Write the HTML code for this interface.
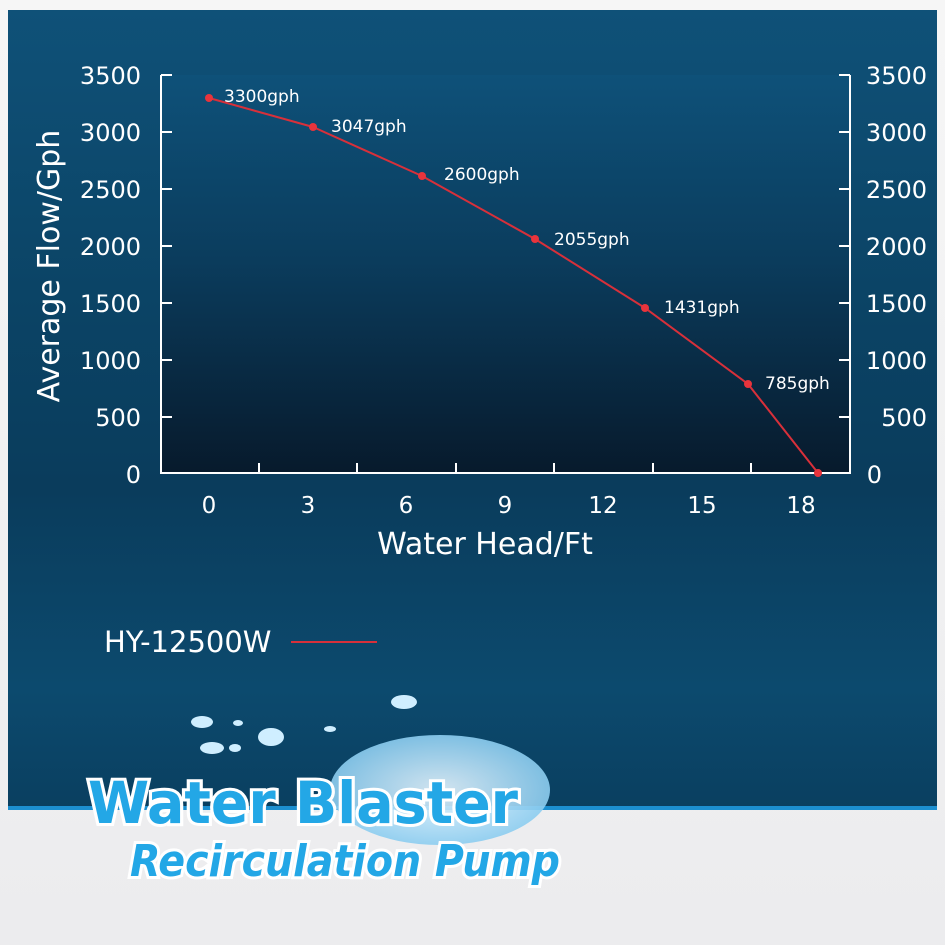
<!DOCTYPE html>
<html><head><meta charset="utf-8"><style>
html,body{margin:0;padding:0;background:#f2f2f3;}
body{width:945px;height:945px;position:relative;overflow:hidden;font-family:"DejaVu Sans","Liberation Sans",sans-serif;}
</style></head><body>
<svg width="945" height="945" viewBox="0 0 945 945" xmlns="http://www.w3.org/2000/svg" style="position:absolute;left:0;top:0">
<defs>
<linearGradient id="bg" x1="0" y1="0" x2="0" y2="1">
<stop offset="0" stop-color="#0f5178"/>
<stop offset="0.35" stop-color="#0b4466"/>
<stop offset="0.6" stop-color="#0a3c5c"/>
<stop offset="0.85" stop-color="#0c4a6e"/>
<stop offset="1" stop-color="#0a3f60"/>
</linearGradient>
<linearGradient id="pl" x1="0" y1="0" x2="0" y2="1">
<stop offset="0" stop-color="#0e5179"/>
<stop offset="0.45" stop-color="#0b3d5e"/>
<stop offset="1" stop-color="#071a2c"/>
</linearGradient>
<linearGradient id="lo" x1="0" y1="0" x2="0" y2="1">
<stop offset="0" stop-color="#f6f6f6"/>
<stop offset="1" stop-color="#ececee"/>
</linearGradient>
<radialGradient id="spl" cx="0.5" cy="0.5" r="0.5">
<stop offset="0" stop-color="#e8f6ff"/>
<stop offset="1" stop-color="#8ccdf0"/>
</radialGradient>
</defs>
<rect x="0" y="0" width="945" height="945" fill="url(#lo)"/>
<rect x="8" y="10" width="929" height="798" fill="url(#bg)"/>
<rect x="8" y="806" width="929" height="4" fill="#1c8fd0"/>
<rect x="161" y="75" width="689" height="398" fill="url(#pl)"/>
<g stroke="#ffffff" stroke-width="2" fill="none">
<path d="M161 75 V473 H850 V75"/>
<path d="M161 75h11M161 132h11M161 189h11M161 246h11M161 303h11M161 360h11M161 417h11"/>
<path d="M850 75h-11M850 132h-11M850 189h-11M850 246h-11M850 303h-11M850 360h-11M850 417h-11"/>
<path d="M259 473v-10M357 473v-10M456 473v-10M554 473v-10M653 473v-10M751 473v-10"/>
</g>
<g fill="#ffffff" font-size="24" text-anchor="end">
<text x="141" y="84">3500</text><text x="141" y="141">3000</text><text x="141" y="198">2500</text><text x="141" y="255">2000</text><text x="141" y="312">1500</text><text x="141" y="369">1000</text><text x="141" y="426">500</text><text x="141" y="483">0</text>
</g>
<g fill="#ffffff" font-size="24" text-anchor="end">
<text x="927" y="84">3500</text><text x="927" y="141">3000</text><text x="927" y="198">2500</text><text x="927" y="255">2000</text><text x="927" y="312">1500</text><text x="927" y="369">1000</text><text x="927" y="426">500</text><text x="882" y="483">0</text>
</g>
<g fill="#ffffff" font-size="23" text-anchor="middle">
<text x="209" y="513">0</text><text x="308" y="513">3</text><text x="406" y="513">6</text><text x="505" y="513">9</text><text x="603" y="513">12</text><text x="702" y="513">15</text><text x="801" y="513">18</text>
</g>
<text x="485" y="554" fill="#ffffff" font-size="30" text-anchor="middle">Water Head/Ft</text>
<text transform="translate(59,266) rotate(-90)" fill="#ffffff" font-size="30" text-anchor="middle">Average Flow/Gph</text>
<polyline points="209,98 313,127 422,176 535,239 645,308 748,384 818,473" fill="none" stroke="#d8303a" stroke-width="2"/>
<g fill="#e8343c">
<circle cx="209" cy="98" r="4"/><circle cx="313" cy="127" r="4"/><circle cx="422" cy="176" r="4"/><circle cx="535" cy="239" r="4"/><circle cx="645" cy="308" r="4"/><circle cx="748" cy="384" r="4"/><circle cx="818" cy="473" r="4"/>
</g>
<g fill="#ffffff" font-size="17">
<text x="224" y="102">3300gph</text><text x="331" y="132">3047gph</text><text x="444" y="180">2600gph</text><text x="554" y="245">2055gph</text><text x="664" y="313">1431gph</text><text x="765" y="389">785gph</text>
</g>
<text x="104" y="652" fill="#ffffff" font-size="29">HY-12500W</text>
<line x1="291" y1="642" x2="377" y2="642" stroke="#d8303a" stroke-width="2"/>
<ellipse cx="440" cy="790" rx="110" ry="55" fill="url(#spl)" opacity="0.9"/>
<g fill="#cfeeff">
<ellipse cx="404" cy="702" rx="13" ry="7"/><ellipse cx="202" cy="722" rx="11" ry="6"/><ellipse cx="212" cy="748" rx="12" ry="6"/>
<ellipse cx="271" cy="737" rx="13" ry="9"/><ellipse cx="235" cy="748" rx="6" ry="4"/><ellipse cx="238" cy="723" rx="5" ry="3"/><ellipse cx="330" cy="729" rx="6" ry="3"/>
</g>
<g font-family="'DejaVu Sans Condensed','DejaVu Sans',sans-serif" font-weight="bold" font-style="italic">
<text x="88" y="823" font-size="58" fill="#23a7e6" stroke="#ffffff" stroke-width="6" paint-order="stroke" textLength="430" lengthAdjust="spacingAndGlyphs" font-style="normal">Water Blaster</text>
<text x="130" y="876" font-size="44" fill="#23a7e6" stroke="#ffffff" stroke-width="6" paint-order="stroke" textLength="430" lengthAdjust="spacingAndGlyphs">Recirculation Pump</text>
</g>
</svg>
</body></html>
